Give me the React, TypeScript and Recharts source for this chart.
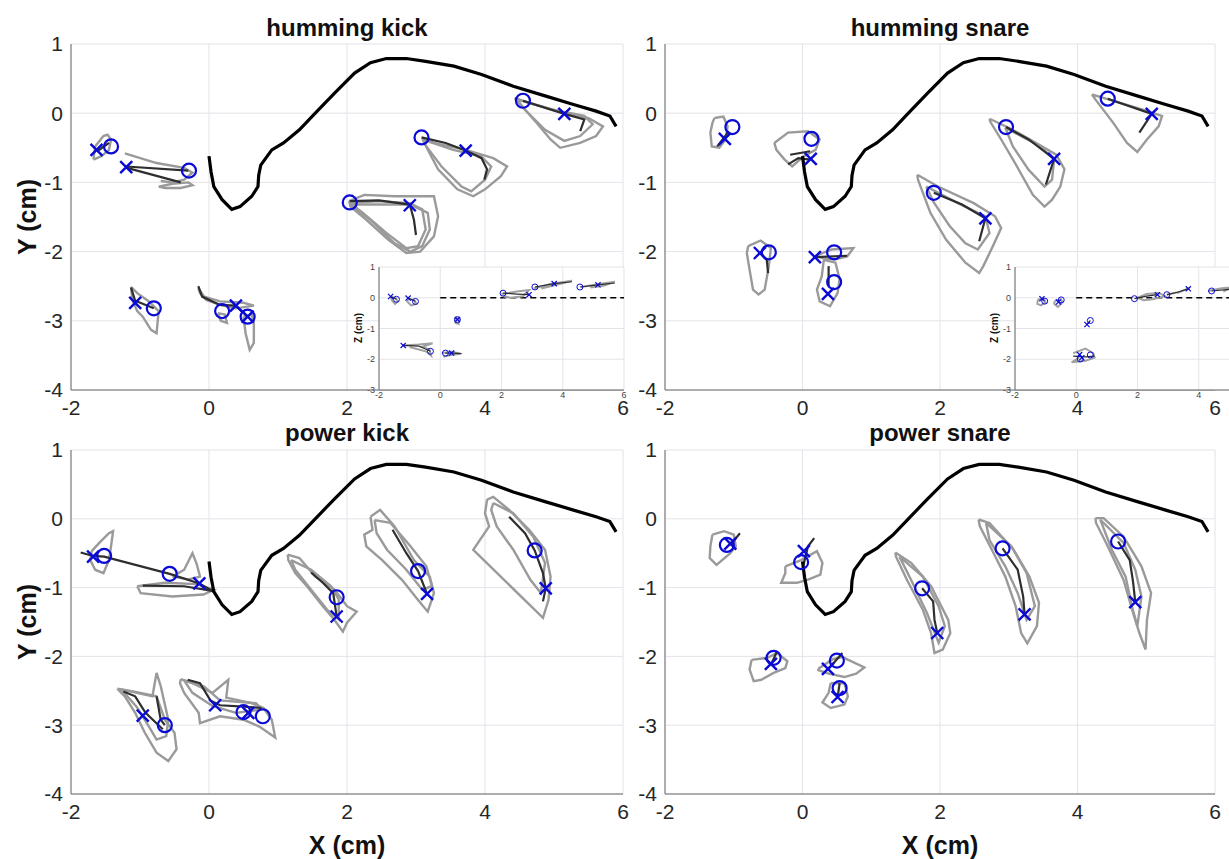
import React from "react"
import { ComposedChart, Line, Scatter, XAxis, YAxis, CartesianGrid } from "recharts"

// palate outline (X, Y in cm), same in all four panels
const palate = [[0,-0.62],[0.03,-0.85],[0.07,-1.06],[0.19,-1.25],[0.33,-1.39],[0.45,-1.35],[0.62,-1.2],[0.71,-1.06],[0.72,-0.9],[0.75,-0.75],[0.91,-0.53],[1.08,-0.43],[1.31,-0.24],[1.54,0],[1.82,0.29],[2.11,0.58],[2.34,0.73],[2.57,0.79],[2.86,0.79],[3.14,0.75],[3.55,0.68],[3.95,0.56],[4.41,0.39],[4.87,0.25],[5.27,0.13],[5.61,0.03],[5.81,-0.04],[5.9,-0.19]]

// humming kick
const hkLoops = [
	[[-1.675,-0.67],[-1.65,-0.48],[-1.53,-0.33],[-1.47,-0.31],[-1.42,-0.38],[-1.45,-0.53],[-1.56,-0.62],[-1.675,-0.67]],
	[[-1.22,-0.58],[-0.76,-0.72],[-0.36,-0.79],[-0.24,-0.86],[-0.36,-0.96],[-0.53,-1.0],[-0.7,-0.98]],
	[[-0.73,-1.06],[-0.53,-1.02],[-0.3,-1.0],[-0.24,-1.04],[-0.41,-1.08],[-0.64,-1.08],[-0.73,-1.06]],
	[[-1.13,-2.51],[-1.04,-2.6],[-0.87,-2.72],[-0.73,-2.86],[-0.76,-3.18],[-0.84,-3.13],[-0.96,-2.94],[-1.04,-2.86],[-1.11,-2.7],[-1.13,-2.51]],
	[[-0.155,-2.53],[-0.07,-2.65],[0.16,-2.72],[0.5,-2.74],[0.65,-2.78],[0.39,-2.82],[0.16,-2.77],[-0.04,-2.7],[-0.13,-2.6],[-0.155,-2.53]],
	[[0.5,-2.94],[0.53,-3.18],[0.59,-3.42],[0.65,-3.32],[0.65,-3.03],[0.62,-2.91],[0.5,-2.94]],
	[[0.13,-2.89],[0.17,-3.0],[0.26,-3.03],[0.23,-2.91],[0.13,-2.89]],
	[[2.03,-1.27],[2.25,-1.18],[2.69,-1.2],[3.26,-1.2],[3.32,-1.49],[3.26,-1.78],[3.06,-2.0],[2.86,-2.02],[2.6,-1.83],[2.28,-1.54],[2.05,-1.35],[2.03,-1.27]],
	[[2.05,-1.3],[2.46,-1.27],[2.91,-1.3],[3.09,-1.39],[3.14,-1.68],[3.03,-1.92],[2.86,-1.95],[2.57,-1.73],[2.23,-1.44],[2.05,-1.3]],
	[[2.04,-1.32],[2.34,-1.54],[2.69,-1.88],[2.92,-2.0],[3.09,-1.92],[3.2,-1.68],[3.17,-1.44],[2.92,-1.32],[2.04,-1.32]],
	[[3.09,-0.36],[3.26,-0.43],[3.72,-0.53],[4.12,-0.65],[4.32,-0.77],[4.23,-0.91],[4.0,-1.1],[3.83,-1.2],[3.6,-1.1],[3.32,-0.81],[3.12,-0.43],[3.09,-0.36]],
	[[3.1,-0.38],[3.54,-0.53],[3.94,-0.62],[4.09,-0.77],[4.0,-0.96],[3.8,-1.13],[3.66,-1.06],[3.37,-0.77],[3.15,-0.48],[3.1,-0.38]],
	[[4.43,0.22],[4.64,0.15],[5.15,0.005],[5.5,-0.07],[5.71,-0.19],[5.61,-0.33],[5.38,-0.43],[5.09,-0.5],[4.95,-0.38],[4.75,-0.14],[4.49,0.15],[4.43,0.22]],
	[[4.46,0.2],[4.98,0.05],[5.44,-0.04],[5.56,-0.16],[5.38,-0.33],[5.15,-0.4],[4.87,-0.24],[4.58,0.05],[4.46,0.2]],
]
const hkMeans = [
	[[-1.62,-0.55],[-1.45,-0.43]],
	[[-1.2,-0.77],[-0.3,-0.83]],
	[[-1.19,-0.79],[-0.41,-1.0]],
	[[-1.13,-2.52],[-1.07,-2.71],[-0.8,-2.82]],
	[[-0.155,-2.5],[-0.1,-2.65],[0.16,-2.77],[0.39,-2.78],[0.56,-2.94]],
	[[2.04,-1.27],[2.46,-1.26],[2.91,-1.32],[2.97,-1.54],[3.0,-1.76]],
	[[3.08,-0.35],[3.43,-0.43],[3.72,-0.54],[3.95,-0.65],[4.03,-0.81],[3.99,-0.96]],
	[[4.55,0.18],[5.15,-0.01],[5.44,-0.09],[5.38,-0.26]],
]
const hkO = [[-1.42,-0.48],[-0.29,-0.83],[-0.8,-2.82],[0.19,-2.86],[0.56,-2.94],[2.04,-1.29],[3.08,-0.35],[4.55,0.18]]
const hkX = [[-1.63,-0.53],[-1.2,-0.78],[-1.07,-2.74],[0.39,-2.78],[0.56,-2.94],[2.91,-1.33],[3.72,-0.54],[5.15,-0.01]]

// humming kick, Z inset
const hkZLoops = [
	[[-1.62,0.04],[-1.45,-0.02],[-1.38,-0.12],[-1.48,-0.2],[-1.58,-0.08],[-1.62,0.04]],
	[[-1.05,-0.02],[-0.85,-0.08],[-0.78,-0.2],[-0.95,-0.25],[-1.08,-0.12],[-1.05,-0.02]],
	[[0.5,-0.65],[0.62,-0.68],[0.6,-0.85],[0.5,-0.82],[0.5,-0.65]],
	[[-1.21,-1.55],[-0.7,-1.52],[-0.25,-1.48],[-0.6,-1.6],[-0.35,-1.68],[-0.3,-1.88],[-0.45,-1.75],[-1.0,-1.6]],
	[[0.05,-1.8],[0.4,-1.76],[0.65,-1.82],[0.35,-1.86],[0.1,-1.92]],
	[[2.0,0.12],[2.5,0.2],[2.9,0.25],[2.7,0.05],[2.3,0.0],[2.05,0.05]],
	[[3.05,0.3],[3.6,0.45],[4.3,0.55],[3.8,0.42],[3.3,0.3]],
	[[4.6,0.35],[5.2,0.45],[5.7,0.52],[5.3,0.38],[4.9,0.33]],
]
const hkZMeans = [
	[[-1.62,0.04],[-1.43,-0.05]],
	[[-1.05,-0.01],[-0.81,-0.12]],
	[[-1.21,-1.55],[-0.7,-1.57],[-0.32,-1.74]],
	[[0.17,-1.8],[0.37,-1.8],[0.7,-1.82]],
	[[2.05,0.15],[2.5,0.12],[2.9,0.1]],
	[[3.09,0.35],[3.72,0.46],[4.3,0.52]],
	[[4.56,0.35],[5.15,0.42],[5.7,0.48]],
]
const hkZO = [[-1.43,-0.05],[-0.81,-0.12],[-0.32,-1.74],[0.17,-1.8],[0.56,-0.71],[2.05,0.15],[3.09,0.35],[4.56,0.35]]
const hkZX = [[-1.62,0.04],[-1.05,-0.01],[-1.21,-1.55],[0.37,-1.8],[0.56,-0.71],[2.9,0.1],[3.72,0.46],[5.15,0.42]]

// humming snare
const hsLoops = [
	[[-1.28,-0.07],[-1.15,-0.05],[-1.09,-0.19],[-1.12,-0.38],[-1.21,-0.5],[-1.32,-0.48],[-1.34,-0.28],[-1.31,-0.14],[-1.28,-0.07]],
	[[-0.41,-0.43],[-0.21,-0.28],[0.08,-0.26],[0.25,-0.38],[0.19,-0.53],[0.02,-0.62],[-0.15,-0.77],[-0.26,-0.67],[-0.38,-0.53],[-0.41,-0.43]],
	[[-0.79,-1.92],[-0.61,-1.84],[-0.46,-1.95],[-0.49,-2.21],[-0.55,-2.55],[-0.64,-2.62],[-0.72,-2.55],[-0.77,-2.26],[-0.81,-2.02],[-0.79,-1.92]],
	[[0.19,-2.06],[0.42,-1.97],[0.74,-1.95],[0.65,-2.07],[0.48,-2.11],[0.31,-2.1],[0.19,-2.06]],
	[[0.31,-2.12],[0.48,-2.16],[0.54,-2.4],[0.51,-2.6],[0.4,-2.79],[0.25,-2.72],[0.21,-2.55],[0.28,-2.36],[0.31,-2.12]],
	[[1.67,-0.89],[1.97,-1.06],[2.49,-1.3],[2.8,-1.49],[2.89,-1.66],[2.77,-1.92],[2.63,-2.21],[2.57,-2.31],[2.37,-2.16],[2.09,-1.83],[1.86,-1.44],[1.68,-0.96],[1.67,-0.89]],
	[[1.8,-1.06],[2.26,-1.3],[2.66,-1.49],[2.72,-1.73],[2.55,-1.97],[2.37,-1.88],[2.14,-1.63],[1.91,-1.29],[1.8,-1.06]],
	[[2.72,-0.08],[3.0,-0.21],[3.4,-0.43],[3.69,-0.6],[3.81,-0.81],[3.75,-1.06],[3.63,-1.25],[3.52,-1.35],[3.35,-1.18],[3.12,-0.77],[2.89,-0.38],[2.73,-0.12],[2.72,-0.08]],
	[[2.95,-0.21],[3.46,-0.48],[3.66,-0.67],[3.63,-0.96],[3.52,-1.06],[3.29,-0.82],[3.06,-0.48],[2.95,-0.21]],
	[[4.21,0.27],[4.45,0.2],[4.95,0.05],[5.23,-0.04],[5.18,-0.19],[5.01,-0.38],[4.87,-0.56],[4.72,-0.43],[4.52,-0.14],[4.26,0.2],[4.21,0.27]],
]
const hsMeans = [
	[[-1.24,-0.48],[-1.07,-0.26]],
	[[-0.18,-0.6],[0.11,-0.55]],
	[[-0.21,-0.74],[-0.06,-0.65],[0.11,-0.67]],
	[[-0.61,-2.02],[-0.52,-2.12],[-0.5,-2.31]],
	[[0.18,-2.08],[0.65,-2.06]],
	[[0.38,-2.21],[0.38,-2.5]],
	[[1.91,-1.15],[2.32,-1.32],[2.66,-1.52],[2.57,-1.85]],
	[[2.96,-0.2],[3.29,-0.38],[3.66,-0.66],[3.54,-1.03]],
	[[4.44,0.21],[5.08,-0.01],[4.9,-0.28]],
]
const hsO = [[-1.02,-0.2],[0.13,-0.37],[-0.49,-2.01],[0.46,-2.01],[0.46,-2.44],[1.91,-1.15],[2.96,-0.2],[4.44,0.21]]
const hsX = [[-1.13,-0.37],[0.12,-0.66],[-0.62,-2.02],[0.18,-2.08],[0.37,-2.61],[2.66,-1.52],[3.66,-0.66],[5.08,-0.01]]

// humming snare, Z inset
const hsZLoops = [
	[[-1.25,-0.05],[-1.05,-0.05],[-1.0,-0.15],[-1.15,-0.25],[-1.27,-0.2],[-1.25,-0.05]],
	[[-0.7,-0.1],[-0.5,-0.05],[-0.45,-0.15],[-0.6,-0.3],[-0.72,-0.2],[-0.7,-0.1]],
	[[-0.1,-1.8],[0.3,-1.65],[0.55,-1.8],[0.6,-1.95],[0.3,-2.05],[-0.15,-2.1],[0.1,-1.95]],
	[[2.0,0.0],[2.3,0.12],[2.7,0.15],[2.9,0.05],[2.5,-0.05],[2.2,-0.08],[2.0,0.0]],
	[[2.96,0.1],[3.4,0.2],[3.7,0.32],[3.3,0.15]],
	[[4.3,0.22],[4.7,0.3],[5.1,0.35],[4.8,0.2]],
]
const hsZMeans = [
	[[1.9,-0.03],[2.3,0.05],[2.65,0.1]],
	[[2.96,0.1],[3.3,0.18],[3.66,0.29]],
	[[4.42,0.22],[5.08,0.28]],
	[[0.35,-0.87],[0.46,-0.74]],
	[[-0.1,-1.9],[0.3,-1.92],[0.6,-1.9]],
]
const hsZO = [[-1.03,-0.11],[-0.49,-0.07],[0.46,-0.74],[0.13,-1.99],[0.46,-1.86],[1.9,-0.03],[2.96,0.1],[4.42,0.22]]
const hsZX = [[-1.12,-0.03],[-0.58,-0.14],[0.35,-0.87],[0.11,-1.85],[0.18,-1.95],[2.65,0.1],[3.66,0.29],[5.08,0.28]]

// power kick
const pkLoops = [
	[[-1.7,-0.47],[-1.59,-0.35],[-1.45,-0.21],[-1.39,-0.18],[-1.42,-0.4],[-1.45,-0.6],[-1.53,-0.79],[-1.65,-0.74],[-1.72,-0.6],[-1.7,-0.47]],
	[[-1.04,-0.98],[-0.64,-0.93],[-0.18,-0.95],[0.07,-1.03],[-0.08,-1.1],[-0.53,-1.13],[-0.99,-1.08],[-1.04,-0.98]],
	[[-0.53,-0.84],[-0.36,-0.74],[-0.24,-0.5],[-0.18,-0.65],[-0.13,-0.84],[-0.3,-0.88],[-0.53,-0.84]],
	[[-1.33,-2.47],[-1.1,-2.51],[-0.76,-2.58],[-0.64,-2.92],[-0.5,-3.11],[-0.47,-3.35],[-0.59,-3.52],[-0.76,-3.4],[-0.93,-3.11],[-1.07,-2.82],[-1.22,-2.58],[-1.33,-2.47]],
	[[-1.27,-2.48],[-0.82,-2.58],[-0.76,-2.24],[-0.7,-2.43],[-0.59,-2.92],[-0.62,-3.16],[-0.76,-3.21],[-0.87,-3.02],[-1.05,-2.73],[-1.27,-2.48]],
	[[-0.41,-2.33],[-0.24,-2.39],[0.05,-2.53],[0.28,-2.34],[0.25,-2.6],[0.62,-2.68],[0.79,-2.75],[0.91,-2.92],[0.96,-3.18],[0.73,-3.02],[0.5,-2.92],[0.16,-2.87],[-0.13,-2.97],[-0.15,-2.82],[-0.36,-2.53],[-0.42,-2.39],[-0.41,-2.33]],
	[[-0.36,-2.35],[-0.07,-2.44],[0.16,-2.64],[0.68,-2.68],[0.77,-2.77],[0.39,-2.82],[0.05,-2.72],[-0.24,-2.53],[-0.36,-2.35]],
	[[1.14,-0.52],[1.31,-0.57],[1.54,-0.84],[1.82,-1.03],[2.0,-1.27],[2.14,-1.35],[2.0,-1.51],[1.94,-1.64],[1.82,-1.47],[1.65,-1.27],[1.42,-0.98],[1.25,-0.79],[1.15,-0.6],[1.14,-0.52]],
	[[1.19,-0.6],[1.48,-0.74],[1.77,-0.98],[1.88,-1.17],[1.88,-1.46],[1.71,-1.32],[1.48,-1.03],[1.25,-0.74],[1.19,-0.6]],
	[[2.34,0.03],[2.48,0.13],[2.69,-0.11],[2.97,-0.6],[3.2,-0.84],[3.26,-1.08],[3.17,-1.35],[3.03,-1.18],[2.8,-0.89],[2.51,-0.6],[2.28,-0.4],[2.25,-0.23],[2.37,-0.16],[2.34,0.03]],
	[[2.4,-0.02],[2.63,-0.06],[2.92,-0.4],[3.15,-0.69],[3.23,-0.98],[3.09,-1.03],[2.86,-0.74],[2.58,-0.45],[2.43,-0.21],[2.4,-0.02]],
	[[4.03,0.28],[4.12,0.32],[4.35,0.13],[4.64,-0.16],[4.87,-0.45],[4.95,-0.84],[4.92,-1.18],[4.84,-1.44],[3.83,-0.45],[4.06,-0.11],[4.0,0.08],[4.03,0.28]],
	[[4.12,0.23],[4.41,0.08],[4.7,-0.26],[4.87,-0.64],[4.81,-1.08],[4.66,-0.89],[4.41,-0.45],[4.17,-0.11],[4.09,0.13],[4.12,0.23]],
]
const pkMeans = [
	[[-1.86,-0.49],[-1.68,-0.54],[-1.52,-0.55],[-0.57,-0.8],[-0.14,-0.94],[0.07,-1.06]],
	[[-0.96,-0.97],[-0.36,-0.98],[0.07,-1.05]],
	[[-1.24,-2.51],[-1.07,-2.58],[-0.92,-2.82],[-0.67,-3.06]],
	[[-0.76,-2.58],[-0.7,-2.92],[-0.64,-3.0]],
	[[-0.31,-2.34],[-0.13,-2.39],[0.02,-2.64],[0.16,-2.71],[0.5,-2.73],[0.76,-2.75]],
	[[1.48,-0.78],[1.65,-0.93],[1.8,-1.08],[1.85,-1.42]],
	[[2.66,-0.16],[2.86,-0.5],[3.03,-0.76],[3.16,-1.09]],
	[[4.35,0.03],[4.58,-0.21],[4.72,-0.46],[4.84,-0.79],[4.88,-1.01],[4.84,-1.2]],
]
const pkO = [[-1.52,-0.54],[-0.57,-0.8],[-0.64,-3.0],[0.5,-2.81],[0.78,-2.87],[1.85,-1.14],[3.03,-0.76],[4.72,-0.46]]
const pkX = [[-1.68,-0.55],[-0.14,-0.94],[-0.96,-2.86],[0.09,-2.71],[0.57,-2.82],[1.85,-1.42],[3.16,-1.09],[4.88,-1.01]]

// power snare
const psLoops = [
	[[-1.31,-0.23],[-1.14,-0.18],[-1.0,-0.23],[-0.97,-0.4],[-1.05,-0.5],[-1.25,-0.67],[-1.35,-0.57],[-1.34,-0.4],[-1.31,-0.23]],
	[[-0.25,-0.69],[-0.02,-0.6],[0.21,-0.47],[0.29,-0.64],[0.26,-0.81],[0.09,-0.88],[-0.08,-0.93],[-0.31,-0.93],[-0.25,-0.79],[-0.25,-0.69]],
	[[-0.74,-2.05],[-0.51,-2.02],[-0.37,-1.95],[-0.22,-2.07],[-0.25,-2.17],[-0.42,-2.24],[-0.6,-2.34],[-0.71,-2.36],[-0.77,-2.19],[-0.74,-2.05]],
	[[0.23,-2.18],[0.44,-2.04],[0.58,-2.01],[0.9,-2.16],[0.78,-2.25],[0.61,-2.3],[0.38,-2.25],[0.23,-2.2],[0.23,-2.18]],
	[[0.41,-2.39],[0.61,-2.39],[0.66,-2.58],[0.61,-2.7],[0.41,-2.75],[0.29,-2.67],[0.38,-2.53],[0.41,-2.39]],
	[[1.35,-0.49],[1.58,-0.64],[1.87,-0.98],[2.12,-1.47],[2.15,-1.66],[2.04,-1.9],[1.92,-1.95],[1.87,-1.66],[1.75,-1.32],[1.52,-0.89],[1.36,-0.55],[1.35,-0.49]],
	[[1.41,-0.55],[1.75,-0.84],[1.98,-1.27],[2.07,-1.56],[1.98,-1.8],[1.81,-1.37],[1.58,-0.89],[1.41,-0.55]],
	[[2.56,-0.01],[2.72,-0.06],[3.07,-0.45],[3.3,-0.84],[3.44,-1.22],[3.41,-1.56],[3.27,-1.81],[3.18,-1.66],[3.1,-1.27],[2.95,-0.84],[2.78,-0.5],[2.58,-0.11],[2.56,-0.01]],
	[[2.67,-0.06],[3.04,-0.4],[3.26,-0.79],[3.38,-1.27],[3.26,-1.47],[3.13,-1.08],[2.95,-0.69],[2.72,-0.31],[2.67,-0.06]],
	[[4.26,0.01],[4.38,0.01],[4.67,-0.26],[4.93,-0.69],[5.07,-1.08],[5.01,-1.47],[4.99,-1.9],[4.9,-1.66],[4.81,-1.37],[4.67,-0.89],[4.44,-0.4],[4.27,-0.06],[4.26,0.01]],
	[[4.33,-0.01],[4.67,-0.35],[4.84,-0.74],[4.93,-1.13],[4.87,-1.56],[4.79,-1.27],[4.7,-0.84],[4.5,-0.45],[4.33,-0.01]],
]
const psMeans = [
	[[-1.05,-0.38],[-0.91,-0.21]],
	[[0.01,-0.69],[0.08,-0.4],[0.17,-0.28]],
	[[-0.45,-2.1],[-0.37,-1.93]],
	[[0.38,-2.18],[0.58,-1.95]],
	[[0.51,-2.6],[0.54,-2.39]],
	[[1.74,-1.01],[1.9,-1.2],[1.92,-1.47],[1.96,-1.66]],
	[[2.91,-0.43],[3.13,-0.74],[3.21,-1.13],[3.23,-1.39]],
	[[4.59,-0.33],[4.76,-0.6],[4.81,-0.93],[4.84,-1.21]],
]
const psO = [[-1.1,-0.38],[-0.02,-0.63],[-0.42,-2.02],[0.5,-2.06],[0.54,-2.46],[1.74,-1.01],[2.91,-0.43],[4.59,-0.33]]
const psX = [[-1.05,-0.36],[0.02,-0.47],[-0.46,-2.11],[0.37,-2.18],[0.51,-2.59],[1.96,-1.66],[3.23,-1.39],[4.84,-1.21]]

const xTicks = [-2, 0, 2, 4, 6]
const yTicks = [-4, -3, -2, -1, 0, 1]
const zTicks = [-3, -2, -1, 0, 1]
// the right inset runs past the figure edge, so its "6" is not shown
const hsZxTicks = [-2, 0, 2, 4]
const zeroLine = [[0, 0], [6, 0]]

const BLUE = "#0a0ad6"
const toPts = (a: number[][]) => a.map(([x, y]) => ({ x, y }))

const ring = (r: number, w: number) => (p: any) => (
	<circle cx={p.cx} cy={p.cy} r={r} fill="none" stroke={BLUE} strokeWidth={w} />
)
const cross = (s: number, w: number) => (p: any) => (
	<path
		d={`M${p.cx - s},${p.cy - s}L${p.cx + s},${p.cy + s}M${p.cx - s},${p.cy + s}L${p.cx + s},${p.cy - s}`}
		stroke={BLUE}
		strokeWidth={w}
		fill="none"
	/>
)

interface PanelProps {
	left: number
	top: number
	width: number
	height: number
	loops: number[][][]
	means: number[][][]
	os: number[][]
	xs: number[][]
}

const Panel = ({ left, top, width, height, loops, means, os, xs }: PanelProps) => (
	<div style={{ position: "absolute", left, top }}>
		<ComposedChart width={width} height={height} margin={{ top: 44, right: 8, bottom: 0, left: 0 }}>
			<CartesianGrid stroke="#e3e3ea" />
			<XAxis
				type="number"
				dataKey="x"
				domain={[-2, 6]}
				ticks={xTicks}
				interval={0}
				allowDataOverflow
				height={40}
				tickLine={false}
				tickSize={0}
				tickMargin={10}
				stroke="#6b6b6b"
				tick={{ fontSize: 21, fill: "#262626" }}
			/>
			<YAxis
				type="number"
				dataKey="y"
				domain={[-4, 1]}
				ticks={yTicks}
				interval={0}
				allowDataOverflow
				width={50}
				tickLine={false}
				tickSize={0}
				tickMargin={8}
				stroke="#6b6b6b"
				tick={{ fontSize: 21, fill: "#262626" }}
			/>
			{loops.map((l, i) => (
				<Line key={"g" + i} data={toPts(l)} dataKey="y" type="linear" stroke="#9a9a9a" strokeWidth={2.4} dot={false} isAnimationActive={false} />
			))}
			{means.map((l, i) => (
				<Line key={"m" + i} data={toPts(l)} dataKey="y" type="linear" stroke="#2e2e2e" strokeWidth={2.2} dot={false} isAnimationActive={false} />
			))}
			<Line data={toPts(palate)} dataKey="y" type="linear" stroke="#000" strokeWidth={3.2} dot={false} isAnimationActive={false} />
			<Scatter data={toPts(os)} shape={ring(7, 2.2)} isAnimationActive={false} />
			<Scatter data={toPts(xs)} shape={cross(6, 2.4)} isAnimationActive={false} />
		</ComposedChart>
	</div>
)

interface InsetProps {
	left: number
	top: number
	ticks: number[]
	loops: number[][][]
	means: number[][][]
	os: number[][]
	xs: number[][]
}

const Inset = ({ left, top, ticks, loops, means, os, xs }: InsetProps) => (
	<div style={{ position: "absolute", left, top }}>
		<ComposedChart width={275} height={141} margin={{ top: 4, right: 10, bottom: 0, left: 0 }}>
			<CartesianGrid stroke="#e3e3ea" fill="#fff" fillOpacity={1} />
			<XAxis
				type="number"
				dataKey="x"
				domain={[-2, 6]}
				ticks={ticks}
				interval={0}
				allowDataOverflow
				height={14}
				tickLine={false}
				tickSize={0}
				tickMargin={2}
				stroke="#6b6b6b"
				tick={{ fontSize: 9, fill: "#444" }}
			/>
			<YAxis
				type="number"
				dataKey="y"
				domain={[-3, 1]}
				ticks={zTicks}
				interval={0}
				allowDataOverflow
				width={20}
				tickLine={false}
				tickSize={0}
				tickMargin={4}
				stroke="#6b6b6b"
				tick={{ fontSize: 9, fill: "#444" }}
			/>
			<Line data={toPts(zeroLine)} dataKey="y" type="linear" stroke="#000" strokeWidth={1.6} strokeDasharray="6 4" dot={false} isAnimationActive={false} />
			{loops.map((l, i) => (
				<Line key={"g" + i} data={toPts(l)} dataKey="y" type="linear" stroke="#a0a0a0" strokeWidth={2} dot={false} isAnimationActive={false} />
			))}
			{means.map((l, i) => (
				<Line key={"m" + i} data={toPts(l)} dataKey="y" type="linear" stroke="#2e2e2e" strokeWidth={1.2} dot={false} isAnimationActive={false} />
			))}
			<Scatter data={toPts(os)} shape={ring(3, 1)} isAnimationActive={false} />
			<Scatter data={toPts(xs)} shape={cross(2.6, 1.2)} isAnimationActive={false} />
		</ComposedChart>
	</div>
)

const titleStyle: React.CSSProperties = {
	position: "absolute",
	fontSize: 24,
	fontWeight: "bold",
	textAlign: "center",
	lineHeight: "28px",
	color: "#111",
}

const yLabel = (top: number): React.CSSProperties => ({
	position: "absolute",
	left: 27,
	top,
	transform: "translate(-50%, -50%) rotate(-90deg)",
	fontSize: 25,
	fontWeight: "bold",
	whiteSpace: "nowrap",
	color: "#111",
})

const zLabel = (left: number): React.CSSProperties => ({
	position: "absolute",
	left,
	top: 328,
	transform: "translate(-50%, -50%) rotate(-90deg)",
	fontSize: 10,
	fontWeight: "bold",
	whiteSpace: "nowrap",
	color: "#111",
})

export default function App() {
	return (
		<div
			style={{
				position: "fixed",
				left: 0,
				top: 0,
				width: 1229,
				height: 859,
				overflow: "hidden",
				background: "#fff",
				fontFamily: "'Liberation Sans', Arial, sans-serif",
			}}
		>
			<Panel left={21} top={0} width={610} height={430} loops={hkLoops} means={hkMeans} os={hkO} xs={hkX} />
			<Panel left={615} top={0} width={608} height={430} loops={hsLoops} means={hsMeans} os={hsO} xs={hsX} />
			<Panel left={21} top={406} width={610} height={428} loops={pkLoops} means={pkMeans} os={pkO} xs={pkX} />
			<Panel left={615} top={406} width={608} height={428} loops={psLoops} means={psMeans} os={psO} xs={psX} />

			<Inset left={359} top={263} ticks={xTicks} loops={hkZLoops} means={hkZMeans} os={hkZO} xs={hkZX} />
			<Inset left={995} top={263} ticks={hsZxTicks} loops={hsZLoops} means={hsZMeans} os={hsZO} xs={hsZX} />

			<div style={{ ...titleStyle, left: 71, width: 552, top: 14 }}>humming kick</div>
			<div style={{ ...titleStyle, left: 665, width: 550, top: 14 }}>humming snare</div>
			<div style={{ ...titleStyle, left: 71, width: 552, top: 419 }}>power kick</div>
			<div style={{ ...titleStyle, left: 665, width: 550, top: 419 }}>power snare</div>

			<div style={yLabel(217)}>Y (cm)</div>
			<div style={yLabel(622)}>Y (cm)</div>
			<div style={{ ...titleStyle, fontSize: 25, left: 71, width: 552, top: 831 }}>X (cm)</div>
			<div style={{ ...titleStyle, fontSize: 25, left: 665, width: 550, top: 831 }}>X (cm)</div>

			<div style={zLabel(358)}>Z (cm)</div>
			<div style={zLabel(994)}>Z (cm)</div>
		</div>
	)
}
